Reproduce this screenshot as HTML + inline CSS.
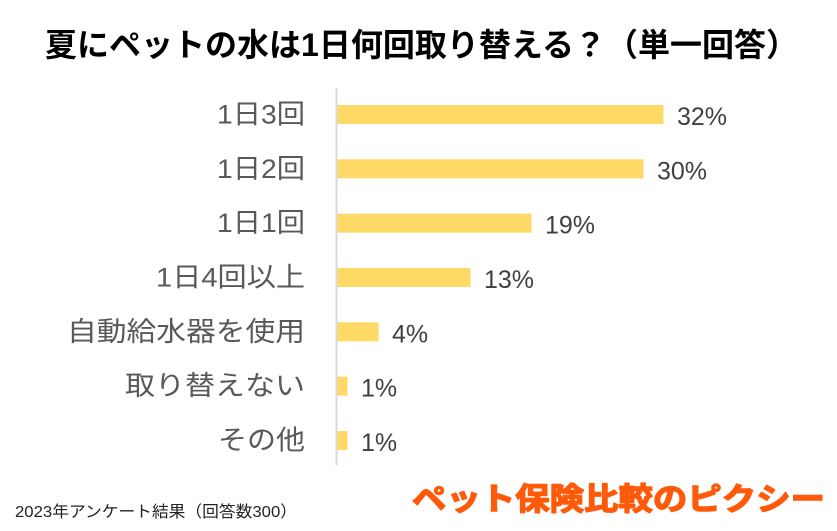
<!DOCTYPE html>
<html>
<head>
<meta charset="utf-8">
<style>
  html, body { margin: 0; padding: 0; background: #ffffff; }
  body { width: 837px; height: 531px; overflow: hidden; }
  svg { display: block; }
  .jp { font-family: "Liberation Sans", "Noto Sans CJK JP", sans-serif; }
</style>
</head>
<body>
<svg width="837" height="531" viewBox="0 0 837 531" xmlns="http://www.w3.org/2000/svg">
  <rect x="0" y="0" width="837" height="531" fill="#ffffff"/>

  <!-- Title -->
  <text class="jp" x="45" y="56" font-size="32" font-weight="bold" fill="#000000" textLength="753" lengthAdjust="spacingAndGlyphs">夏にペットの水は1日何回取り替える？（単一回答）</text>

  <!-- Axis -->
  <line x1="336.5" y1="88" x2="336.5" y2="465" stroke="#d9d9d9" stroke-width="2"/>

  <!-- Bars -->
  <g fill="#FFD966">
    <rect x="337.5" y="105" width="326" height="19"/>
    <rect x="337.5" y="159.3" width="306" height="19"/>
    <rect x="337.5" y="213.7" width="194" height="19"/>
    <rect x="337.5" y="268" width="133" height="19"/>
    <rect x="337.5" y="322.3" width="41" height="19"/>
    <rect x="337.5" y="376.7" width="10" height="19"/>
    <rect x="337.5" y="431" width="10" height="19"/>
  </g>

  <!-- Category labels -->
  <g class="jp" font-size="27" fill="#595959" text-anchor="end">
    <text x="305" y="123.5" textLength="88" lengthAdjust="spacingAndGlyphs">1日3回</text>
    <text x="305" y="177.8" textLength="88" lengthAdjust="spacingAndGlyphs">1日2回</text>
    <text x="305" y="232.2" textLength="88" lengthAdjust="spacingAndGlyphs">1日1回</text>
    <text x="305" y="286.5" textLength="149" lengthAdjust="spacingAndGlyphs">1日4回以上</text>
    <text x="305" y="340.8" textLength="238" lengthAdjust="spacingAndGlyphs">自動給水器を使用</text>
    <text x="305" y="395.2" textLength="180" lengthAdjust="spacingAndGlyphs">取り替えない</text>
    <text x="305" y="449.5" textLength="87" lengthAdjust="spacingAndGlyphs">その他</text>
  </g>

  <!-- Value labels -->
  <g font-family="Liberation Sans, sans-serif" font-size="25" fill="#404040">
    <text x="677" y="125">32%</text>
    <text x="657" y="179.3">30%</text>
    <text x="545" y="233.7">19%</text>
    <text x="484" y="288">13%</text>
    <text x="392" y="342.3">4%</text>
    <text x="361" y="396.7">1%</text>
    <text x="361" y="451">1%</text>
  </g>

  <!-- Footer note -->
  <text class="jp" x="15" y="517" font-size="16" fill="#222222" textLength="282" lengthAdjust="spacingAndGlyphs">2023年アンケート結果（回答数300）</text>

  <!-- Logo -->
  <text class="jp" x="412" y="510" font-size="31" font-weight="bold" fill="#FF5A0A" stroke="#FF5A0A" stroke-width="1.4" stroke-linejoin="round" textLength="413" lengthAdjust="spacingAndGlyphs">ペット保険比較のピクシー</text>
</svg>
</body>
</html>
